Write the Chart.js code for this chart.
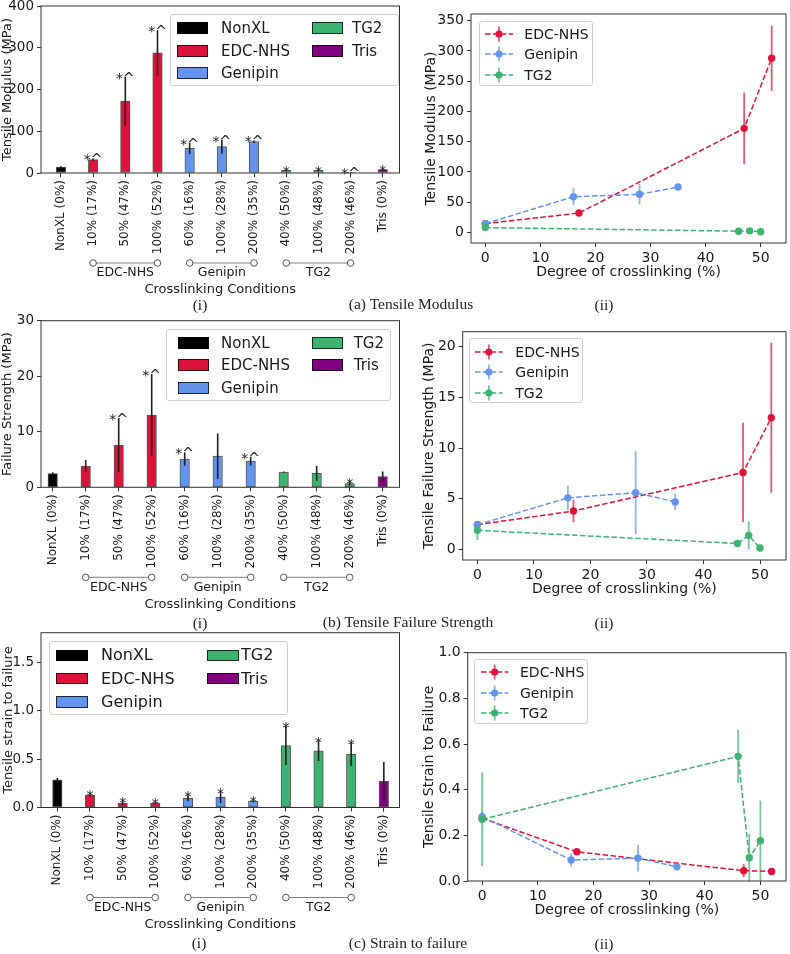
<!DOCTYPE html>
<html><head><meta charset="utf-8">
<script src="https://cdn.jsdelivr.net/npm/chart.js@4/dist/chart.umd.min.js"></script>
<style>
html,body{margin:0;padding:0;background:#fff;}
body{width:790px;height:954px;position:relative;overflow:hidden;font-family:"DejaVu Sans",sans-serif;color:#1a1a1a;}
canvas{position:absolute;}
.cap{position:absolute;font-family:"Liberation Serif","DejaVu Serif",serif;font-size:15.5px;color:#222;transform:translate(-50%,-50%);white-space:nowrap;line-height:1;}
.leg{position:absolute;border:1px solid #d0d0d0;border-radius:3px;background:rgba(255,255,255,0.85);box-sizing:border-box;}
.leg .sw{position:absolute;box-sizing:border-box;border:1px solid rgba(0,0,0,0.75);}
.leg .tx{position:absolute;white-space:nowrap;transform:translateY(-50%);line-height:1;color:#1a1a1a;}
.leg svg{position:absolute;overflow:visible;}
</style></head><body>
<script>
// ---------------- data ----------------
const categories = ['NonXL (0%)','10% (17%)','50% (47%)','100% (52%)','60% (16%)','100% (28%)','200% (35%)','40% (50%)','100% (48%)','200% (46%)','Tris (0%)'];
const categoryGroup = ['NonXL','EDC-NHS','EDC-NHS','EDC-NHS','Genipin','Genipin','Genipin','TG2','TG2','TG2','Tris'];
const groupNames = ['NonXL','EDC-NHS','Genipin','TG2','Tris'];
const groupColors = ['#000000','#DC143C','#6495ED','#3CB371','#800080'];
const bracketGroups = [['EDC-NHS',1,3],['Genipin',4,6],['TG2',7,9]];

const modulusMean  = [14, 32, 172, 288, 59, 63, 75, 7, 7, 1.5, 8];
const modulusErr   = [2, 3, 59, 54, 14, 17, 3, 1, 1, 0.5, 1];
const modulusMarks = ['', '*^', '*^', '*^', '*^', '*^', '*^', '*', '*', '*^', '*'];
const strengthMean  = [2.45, 3.8, 7.6, 13.0, 5.1, 5.6, 4.7, 2.75, 2.5, 0.65, 1.95];
const strengthErr   = [0.25, 1.1, 4.9, 7.4, 1.2, 4.1, 0.8, 0.1, 1.35, 0.35, 0.9];
const strengthMarks = ['', '', '*^', '*^', '*^', '', '*^', '', '', '*', ''];
const strainMean  = [0.285, 0.128, 0.045, 0.045, 0.095, 0.105, 0.065, 0.64, 0.585, 0.55, 0.27];
const strainErr   = [0.02, 0.01, 0.025, 0.01, 0.03, 0.06, 0.008, 0.2, 0.105, 0.12, 0.2];
const strainMarks = ['', '*', '*', '*', '*', '*', '*', '*', '*', '*', ''];

const lineSeries = ['EDC-NHS','Genipin','TG2'];
const lineColors = ['#DC143C','#6495ED','#3CB371'];
const edcDegree = [0, 17, 47, 52];
const genipinDegree = [0, 16, 28, 35];
const tg2Degree = [0, 46, 48, 50];

const edcModulus = [14.5, 32, 172, 288];      const edcModulusErr = [2, 3, 59, 54];
const genipinModulus = [14.5, 59, 63, 75];    const genipinModulusErr = [2, 14, 17, 3];
const tg2Modulus = [8, 2, 2.6, 1];            const tg2ModulusErr = [1, 1, 1, 0.5];
const edcStrength = [2.45, 3.8, 7.6, 13.0];   const edcStrengthErr = [0.25, 1.1, 4.9, 7.4];
const genipinStrength = [2.45, 5.1, 5.6, 4.7];const genipinStrengthErr = [0.25, 1.2, 4.1, 0.8];
const tg2Strength = [1.9, 0.6, 1.4, 0.15];    const tg2StrengthErr = [0.95, 0.35, 1.4, 0.1];
const edcStrain = [0.275, 0.128, 0.045, 0.042];   const edcStrainErr = [0.02, 0.01, 0.028, 0.012];
const genipinStrain = [0.282, 0.092, 0.10, 0.062];const genipinStrainErr = [0.02, 0.03, 0.058, 0.008];
const tg2Strain = [0.27, 0.546, 0.102, 0.176];    const tg2StrainErr = [0.205, 0.117, 0.105, 0.175];

const modulusBarTicks = [0, 100, 200, 300, 400];
const strengthBarTicks = [0, 10, 20, 30];
const strainBarTicks = [0, 0.5, 1.0, 1.5];
const modulusLineTicks = [0, 50, 100, 150, 200, 250, 300, 350];
const strengthLineTicks = [0, 5, 10, 15, 20];
const strainLineTicks = [0, 0.2, 0.4, 0.6, 0.8, 1.0];
const degreeTicks = [0, 10, 20, 30, 40, 50];

// ---------------- helpers ----------------
const FONT = '"DejaVu Sans", sans-serif';
const TXT = '#1a1a1a';

function makeCanvas(left, top, w, h) {
  const c = document.createElement('canvas');
  c.width = w; c.height = h;
  c.style.left = left + 'px'; c.style.top = top + 'px';
  c.style.width = w + 'px'; c.style.height = h + 'px';
  document.body.appendChild(c);
  return c;
}
function zeroPad(s) { s.paddingLeft = 0; s.paddingRight = 0; s.paddingTop = 0; s.paddingBottom = 0; }

const decor = {
  id: 'decor',
  beforeDatasetsDraw(chart, args, o) {
    if (!o.lineErr) return;
    const {ctx, chartArea: a, scales: {x, y}} = chart;
    ctx.save();
    ctx.beginPath(); ctx.rect(a.left, a.top, a.right - a.left, a.bottom - a.top); ctx.clip();
    chart.data.datasets.forEach(ds => {
      ctx.strokeStyle = ds.errColor; ctx.lineWidth = 1.8;
      ds.data.forEach((p, j) => {
        const px = x.getPixelForValue(p.x);
        ctx.beginPath();
        ctx.moveTo(px, y.getPixelForValue(p.y - ds.err[j]));
        ctx.lineTo(px, y.getPixelForValue(p.y + ds.err[j]));
        ctx.stroke();
      });
    });
    ctx.restore();
  },
  afterDatasetsDraw(chart, args, o) {
    if (!o.barErr) return;
    const {ctx, chartArea: a, scales: {x, y}} = chart;
    const ds = chart.data.datasets[0];
    ctx.save();
    ctx.strokeStyle = '#1e1e1e'; ctx.lineWidth = 1.6;
    ds.data.forEach((p, i) => {
      const px = x.getPixelForValue(p.x);
      ctx.beginPath();
      ctx.moveTo(px, Math.min(a.bottom, y.getPixelForValue(p.y - o.barErr[i])));
      ctx.lineTo(px, y.getPixelForValue(p.y + o.barErr[i]));
      ctx.stroke();
    });
    ctx.fillStyle = '#222'; ctx.font = '14px ' + FONT; ctx.textAlign = 'center'; ctx.textBaseline = 'alphabetic';
    ds.data.forEach((p, i) => {
      if (!o.marks[i]) return;
      const px = x.getPixelForValue(p.x);
      const top = y.getPixelForValue(p.y + o.barErr[i]);
      ctx.fillText(o.marks[i], px, top + 6);
    });
    ctx.restore();
  },
  afterDraw(chart, args, o) {
    const {ctx, chartArea: a, scales: {x}} = chart;
    ctx.save();
    ctx.strokeStyle = '#333'; ctx.lineWidth = 1;
    ctx.strokeRect(a.left, a.top, a.right - a.left, a.bottom - a.top);
    ctx.fillStyle = TXT;
    // y title
    ctx.save();
    ctx.font = o.titleSize + 'px ' + FONT;
    ctx.translate(o.yTitleX, (a.top + a.bottom) / 2);
    ctx.rotate(-Math.PI / 2);
    ctx.textAlign = 'center'; ctx.textBaseline = 'middle';
    ctx.fillText(o.yTitle, 0, 0);
    ctx.restore();
    // x title
    ctx.font = o.titleSize + 'px ' + FONT;
    ctx.textAlign = 'center'; ctx.textBaseline = 'middle';
    ctx.fillText(o.xTitle, (a.left + a.right) / 2, a.bottom + o.xTitleDy);
    // group brackets
    if (o.brackets) {
      o.brackets.forEach(g => {
        const x1 = x.getPixelForValue(g[1]), x2 = x.getPixelForValue(g[2]);
        const yy = a.bottom + 90;
        ctx.strokeStyle = '#808080'; ctx.lineWidth = 1;
        ctx.beginPath(); ctx.moveTo(x1, yy); ctx.lineTo(x2, yy); ctx.stroke();
        [x1, x2].forEach(cx => {
          ctx.beginPath(); ctx.arc(cx, yy, 3.3, 0, Math.PI * 2);
          ctx.fillStyle = '#fff'; ctx.fill();
          ctx.strokeStyle = '#555'; ctx.stroke();
        });
        ctx.fillStyle = TXT; ctx.font = '12.5px ' + FONT;
        ctx.textAlign = 'center'; ctx.textBaseline = 'middle';
        ctx.fillText(g[0], (x1 + x2) / 2, a.bottom + 100);
      });
    }
    ctx.restore();
  }
};

function axisGrid() {
  return {display: true, drawOnChartArea: false, drawTicks: true, tickLength: 4, color: '#333', lineWidth: 1, offset: false};
}

function barChart(pos, area, mean, err, marks, yMin, yMax, yTicks, yFmt, xMin, xMax, yTitle, yTitleX) {
  const [L, T, W, H] = pos;
  const cv = makeCanvas(L, T, W, H);
  return new Chart(cv.getContext('2d'), {
    type: 'bar',
    data: {datasets: [{
      data: mean.map((v, i) => ({x: i, y: v})),
      backgroundColor: categoryGroup.map(g => groupColors[groupNames.indexOf(g)]),
      borderColor: 'rgba(30,30,30,0.75)', borderWidth: 1, borderSkipped: false,
      barThickness: 9.5
    }]},
    options: {
      responsive: false, animation: false, events: [],
      layout: {padding: {left: 0, top: area[1], right: W - area[2], bottom: 0}},
      plugins: {legend: {display: false}, tooltip: {enabled: false},
        decor: {barErr: err, marks: marks, yTitle: yTitle, yTitleX: yTitleX, xTitle: 'Crosslinking Conditions', xTitleDy: 117, titleSize: 13, brackets: bracketGroups}},
      scales: {
        x: {type: 'linear', min: xMin, max: xMax, offset: false, bounds: 'data',
          afterBuildTicks: s => { s.ticks = categories.map((c, i) => ({value: i})); },
          afterFit: s => { s.height = H - area[3]; zeroPad(s); },
          ticks: {autoSkip: false, minRotation: 90, maxRotation: 90, padding: 3, color: TXT, font: {family: FONT, size: 12}, callback: v => categories[v]},
          grid: axisGrid(), border: {display: false}},
        y: {type: 'linear', min: yMin, max: yMax, bounds: 'data',
          afterBuildTicks: s => { s.ticks = yTicks.map(v => ({value: v})); },
          afterFit: s => { s.width = area[0]; zeroPad(s); },
          ticks: {padding: 3, color: TXT, font: {family: FONT, size: 13.5}, callback: yFmt},
          grid: axisGrid(), border: {display: false}}
      }
    },
    plugins: [decor]
  });
}

function lineChart(pos, area, xs, ys, es, yMin, yMax, yTicks, yFmt, yTitle, yTitleX) {
  const [L, T, W, H] = pos;
  const cv = makeCanvas(L, T, W, H);
  const datasets = lineSeries.map((name, k) => ({
    label: name,
    data: xs[k].map((xv, j) => ({x: xv, y: ys[k][j]})),
    err: es[k],
    borderColor: lineColors[k], backgroundColor: lineColors[k],
    errColor: lineColors[k] + 'B8',
    borderWidth: 1.5, borderDash: [5.5, 2.4], fill: false, tension: 0,
    pointRadius: 3.7, pointBorderWidth: 0, pointBackgroundColor: lineColors[k],
    order: 3 - k
  }));
  return new Chart(cv.getContext('2d'), {
    type: 'line',
    data: {datasets},
    options: {
      responsive: false, animation: false, events: [],
      layout: {padding: {left: 0, top: area[1], right: W - area[2], bottom: 0}},
      plugins: {legend: {display: false}, tooltip: {enabled: false},
        decor: {lineErr: true, yTitle: yTitle, yTitleX: yTitleX, xTitle: 'Degree of crosslinking (%)', xTitleDy: 29.3, titleSize: 14}},
      scales: {
        x: {type: 'linear', min: -2.6, max: 54.6, bounds: 'data',
          afterBuildTicks: s => { s.ticks = degreeTicks.map(v => ({value: v})); },
          afterFit: s => { s.height = H - area[3]; zeroPad(s); },
          ticks: {padding: 3, color: TXT, font: {family: FONT, size: 14}, maxRotation: 0},
          grid: axisGrid(), border: {display: false}},
        y: {type: 'linear', min: yMin, max: yMax, bounds: 'data',
          afterBuildTicks: s => { s.ticks = yTicks.map(v => ({value: v})); },
          afterFit: s => { s.width = area[0]; zeroPad(s); },
          ticks: {padding: 3, color: TXT, font: {family: FONT, size: 14}, callback: yFmt},
          grid: axisGrid(), border: {display: false}}
      }
    },
    plugins: [decor]
  });
}

function barLegend(left, top, w, h, fs, rows, cols, swW, swH) {
  const d = document.createElement('div');
  d.className = 'leg';
  Object.assign(d.style, {left: left + 'px', top: top + 'px', width: w + 'px', height: h + 'px'});
  const layout = [[0, 0], [0, 1], [0, 2], [1, 0], [1, 1]];
  groupNames.forEach((g, i) => {
    const [c, r] = layout[i];
    const sw = document.createElement('div'); sw.className = 'sw';
    Object.assign(sw.style, {left: cols[c][0] + 'px', top: (rows[r] - swH / 2) + 'px', width: swW + 'px', height: swH + 'px', background: groupColors[i]});
    const tx = document.createElement('div'); tx.className = 'tx'; tx.textContent = g;
    Object.assign(tx.style, {left: cols[c][1] + 'px', top: rows[r] + 'px', fontSize: fs + 'px'});
    d.appendChild(sw); d.appendChild(tx);
  });
  document.body.appendChild(d);
}

function lineLegend(left, top, rows, mx0, mx1, txX) {
  const d = document.createElement('div');
  d.className = 'leg';
  Object.assign(d.style, {left: left + 'px', top: top + 'px', width: '114px', height: '65px'});
  lineSeries.forEach((name, k) => {
    const ns = 'http://www.w3.org/2000/svg';
    const svg = document.createElementNS(ns, 'svg');
    svg.setAttribute('width', mx1 - mx0); svg.setAttribute('height', 20);
    svg.style.left = mx0 + 'px'; svg.style.top = (rows[k] - 10) + 'px';
    const len = mx1 - mx0, c = len / 2;
    const ln = document.createElementNS(ns, 'line');
    ln.setAttribute('x1', 0); ln.setAttribute('y1', 10); ln.setAttribute('x2', len); ln.setAttribute('y2', 10);
    ln.setAttribute('stroke', lineColors[k]); ln.setAttribute('stroke-width', 1.5); ln.setAttribute('stroke-dasharray', '5.5,2.4');
    const eb = document.createElementNS(ns, 'line');
    eb.setAttribute('x1', c); eb.setAttribute('y1', 2.5); eb.setAttribute('x2', c); eb.setAttribute('y2', 17.5);
    eb.setAttribute('stroke', lineColors[k]); eb.setAttribute('stroke-opacity', 0.72); eb.setAttribute('stroke-width', 1.8);
    const dot = document.createElementNS(ns, 'circle');
    dot.setAttribute('cx', c); dot.setAttribute('cy', 10); dot.setAttribute('r', 3.6); dot.setAttribute('fill', lineColors[k]);
    svg.appendChild(ln); svg.appendChild(eb); svg.appendChild(dot);
    const tx = document.createElement('div'); tx.className = 'tx'; tx.textContent = name;
    Object.assign(tx.style, {left: txX + 'px', top: rows[k] + 'px', fontSize: '14px'});
    d.appendChild(svg); d.appendChild(tx);
  });
  document.body.appendChild(d);
}

function caption(text, x, y) {
  const d = document.createElement('div'); d.className = 'cap'; d.textContent = text;
  d.style.left = x + 'px'; d.style.top = y + 'px';
  document.body.appendChild(d);
}

const fmtInt = v => String(v);
const fmt1 = v => v.toFixed(1);

// ---------------- panels ----------------
barChart([0, 0, 402, 300], [41, 6, 399.5, 173], modulusMean, modulusErr, modulusMarks, 0, 400, modulusBarTicks, fmtInt, -0.62, 10.52, 'Tensile Modulus (MPa)', 7.5);
barChart([0, 310, 402, 305], [41, 10.7, 399.5, 177.3], strengthMean, strengthErr, strengthMarks, 0, 30, strengthBarTicks, fmtInt, -0.355, 10.51, 'Failure Strength (MPa)', 7.5);
barChart([0, 625, 402, 310], [41, 7.7, 399.5, 182.5], strainMean, strainErr, strainMarks, 0, 1.806, strainBarTicks, fmt1, -0.5, 10.48, 'Tensile strain to failure', 8.3);

lineChart([400, 0, 390, 300], [71, 14, 388, 243],
  [edcDegree, genipinDegree, tg2Degree], [edcModulus, genipinModulus, tg2Modulus], [edcModulusErr, genipinModulusErr, tg2ModulusErr],
  -17.5, 361, modulusLineTicks, fmtInt, 'Tensile Modulus (MPa)', 31.7);
lineChart([400, 310, 390, 300], [62.7, 21.7, 387.7, 250],
  [edcDegree, genipinDegree, tg2Degree], [edcStrength, genipinStrength, tg2Strength], [edcStrengthErr, genipinStrengthErr, tg2StrengthErr],
  -1.03, 21.48, strengthLineTicks, fmtInt, 'Tensile Failure Strength (MPa)', 29.3);
lineChart([400, 625, 390, 300], [67.7, 27.7, 388, 256],
  [edcDegree, genipinDegree, tg2Degree], [edcStrain, genipinStrain, tg2Strain], [edcStrainErr, genipinStrainErr, tg2StrainErr],
  0, 1.0, strainLineTicks, fmt1, 'Tensile Strain to Failure', 29.3);

// legends
barLegend(170, 14, 229, 72, 15, [13, 35.5, 58], [[6, 50], [141, 181]], 31, 12);
barLegend(165.7, 329, 225.3, 71.7, 15, [12.7, 35, 57.7], [[11, 54.3], [145, 187]], 31, 12);
barLegend(49, 640.7, 239, 74.3, 16, [13.6, 37, 60.3], [[6, 51], [156.7, 191]], 32, 11.5);
lineLegend(479, 20.7, [12, 32.6, 53.3], 5, 33, 44.3);
lineLegend(469.3, 338.3, [12.4, 32.7, 53.4], 4.7, 32.4, 45);
lineLegend(474, 659.3, [11.4, 32.4, 52.4], 6, 33.3, 45);

// captions
caption('(i)', 200, 305); caption('(a) Tensile Modulus', 411, 304); caption('(ii)', 604, 305);
caption('(i)', 200, 623); caption('(b) Tensile Failure Strength', 408, 622); caption('(ii)', 604, 623);
caption('(i)', 199, 943); caption('(c) Strain to failure', 408, 943); caption('(ii)', 604, 944);
</script>
</body></html>
